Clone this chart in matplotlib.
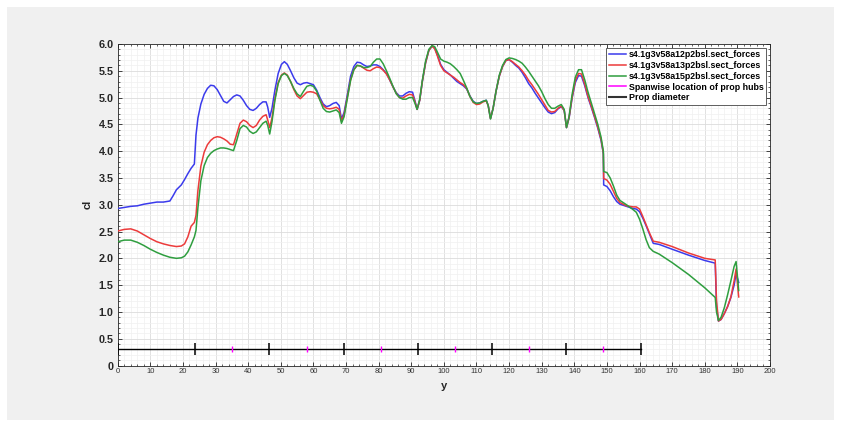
import numpy as np
import matplotlib.pyplot as plt
from matplotlib.lines import Line2D
from matplotlib.patches import Rectangle
from matplotlib.ticker import MultipleLocator, FuncFormatter

# ============================================
# Data
# ============================================
span_y = [0, 2, 4, 6, 8, 10, 12, 14, 16, 17, 18, 19.5, 20.5, 21.5, 22.5, 23.5,
          24.0, 24.6, 25.5, 26.5, 27.5, 28.5, 29.5, 30.5, 31.5, 32.5, 33.5, 34.5,
          35.5, 36.5, 37.5, 38.5, 39.5, 40.5, 41.5, 42.5, 43.5, 44.5, 45.5, 46.0,
          46.6, 47.3, 48.2, 49.2, 50.2, 51.1, 52, 53, 54, 55, 56, 57, 58, 59, 60,
          61, 62, 63, 64, 65, 66, 67, 67.9, 68.6, 69.4, 70.4, 71.4, 72.4, 73.4,
          74.4, 75.4, 76.4, 77.4, 78.4, 79.4, 80.4, 81.4, 82.4, 83.4, 84.4, 85.4,
          86.4, 87.4, 88.4, 89.4, 90.4, 91.1, 91.8, 92.6, 93.4, 94.4, 95.4, 96.4,
          97.2, 98, 99, 100, 101, 102, 103, 104, 105, 106, 107, 108, 109, 110,
          111, 112, 113, 113.6, 114.3, 115.1, 116, 117, 118, 119, 120, 121, 122,
          123, 124, 125, 126, 127, 128, 129, 130, 131, 132, 133, 134, 135, 136,
          136.9, 137.6, 138.4, 139.3, 140.3, 141.3, 142.2, 143.2, 144.2, 145.2,
          146.2, 147.2, 148.2, 148.9, 149.0, 150, 151, 152, 153, 154, 156, 158,
          159, 160, 161, 162, 163, 164.2, 166, 170, 175, 180, 183.2, 183.6, 184.2,
          185, 186, 187, 188, 189, 189.6, 190.4]

cl_a12 = [2.93, 2.95, 2.97, 2.98, 3.01, 3.03, 3.05, 3.05, 3.07, 3.17, 3.28, 3.37,
          3.47, 3.58, 3.68, 3.76, 4.30, 4.62, 4.88, 5.06, 5.17, 5.23, 5.22, 5.15,
          5.04, 4.93, 4.90, 4.96, 5.02, 5.05, 5.03, 4.95, 4.85, 4.78, 4.76, 4.80,
          4.87, 4.92, 4.92, 4.82, 4.63, 4.80, 5.14, 5.45, 5.62, 5.67, 5.62, 5.50,
          5.37, 5.27, 5.24, 5.27, 5.28, 5.26, 5.24, 5.14, 5.00, 4.88, 4.83, 4.85,
          4.89, 4.91, 4.85, 4.60, 4.72, 5.05, 5.40, 5.58, 5.66, 5.65, 5.61, 5.58,
          5.59, 5.61, 5.61, 5.58, 5.52, 5.45, 5.33, 5.20, 5.09, 5.03, 5.03, 5.08,
          5.11, 5.10, 4.95, 4.78, 4.95, 5.30, 5.65, 5.88, 5.96, 5.92, 5.80, 5.62,
          5.52, 5.47, 5.42, 5.36, 5.30, 5.26, 5.22, 5.16, 5.03, 4.93, 4.89, 4.90,
          4.93, 4.95, 4.85, 4.61, 4.80, 5.12, 5.40, 5.58, 5.69, 5.71, 5.66, 5.60,
          5.55, 5.47, 5.37, 5.26, 5.18, 5.08, 4.99, 4.90, 4.81, 4.73, 4.70, 4.72,
          4.79, 4.83, 4.76, 4.44, 4.62, 4.98, 5.28, 5.41, 5.40, 5.22, 5.00, 4.82,
          4.63, 4.43, 4.20, 3.95, 3.37, 3.34, 3.26, 3.15, 3.06, 3.01, 2.97, 2.93,
          2.92, 2.87, 2.75, 2.61, 2.46, 2.28, 2.26, 2.17, 2.06, 1.96, 1.91, 1.10,
          0.83, 0.86, 0.97, 1.10, 1.27, 1.50, 1.72, 1.55]

cl_a13 = [2.51, 2.54, 2.55, 2.51, 2.44, 2.37, 2.31, 2.27, 2.24, 2.23, 2.22, 2.23,
          2.27, 2.40, 2.60, 2.67, 2.80, 3.27, 3.72, 3.98, 4.12, 4.20, 4.25, 4.27,
          4.26, 4.23, 4.19, 4.13, 4.12, 4.32, 4.52, 4.58, 4.55, 4.48, 4.44, 4.48,
          4.58, 4.65, 4.68, 4.58, 4.44, 4.62, 4.98, 5.28, 5.42, 5.46, 5.42, 5.30,
          5.15, 5.03, 4.98, 5.04, 5.10, 5.11, 5.10, 5.07, 4.96, 4.85, 4.80, 4.79,
          4.80, 4.82, 4.78, 4.56, 4.68, 5.00, 5.33, 5.52, 5.60, 5.59, 5.55, 5.51,
          5.50, 5.54, 5.57, 5.56, 5.51, 5.44, 5.33, 5.20, 5.08, 5.00, 4.99, 5.03,
          5.06, 5.05, 4.93, 4.78, 4.95, 5.30, 5.65, 5.88, 5.96, 5.91, 5.78, 5.60,
          5.50, 5.46, 5.42, 5.38, 5.33, 5.28, 5.24, 5.17, 5.02, 4.91, 4.87, 4.88,
          4.92, 4.94, 4.85, 4.61, 4.80, 5.12, 5.40, 5.58, 5.69, 5.71, 5.67, 5.62,
          5.57, 5.50, 5.42, 5.32, 5.24, 5.15, 5.06, 4.96, 4.86, 4.76, 4.73, 4.74,
          4.80, 4.84, 4.76, 4.44, 4.63, 5.00, 5.32, 5.45, 5.44, 5.25, 5.02, 4.84,
          4.65, 4.45, 4.22, 3.97, 3.49, 3.46, 3.38, 3.25, 3.12, 3.04, 2.98, 2.96,
          2.96, 2.92, 2.78, 2.63, 2.48, 2.32, 2.30, 2.22, 2.10, 2.00, 1.97, 1.20,
          0.83, 0.86, 0.97, 1.10, 1.28, 1.58, 1.80, 1.28]

cl_a15 = [2.31, 2.34, 2.34, 2.30, 2.24, 2.17, 2.11, 2.06, 2.02, 2.01, 2.00, 2.01,
          2.04, 2.12, 2.25, 2.40, 2.52, 2.95, 3.45, 3.73, 3.88, 3.96, 4.01, 4.04,
          4.06, 4.06, 4.05, 4.03, 4.01, 4.20, 4.42, 4.48, 4.45, 4.37, 4.33, 4.36,
          4.44, 4.52, 4.56, 4.48, 4.32, 4.55, 4.95, 5.26, 5.41, 5.45, 5.41, 5.30,
          5.17, 5.07, 5.02, 5.12, 5.21, 5.23, 5.21, 5.12, 4.95, 4.80, 4.74, 4.73,
          4.75, 4.77, 4.72, 4.52, 4.64, 4.98, 5.32, 5.52, 5.60, 5.59, 5.56, 5.56,
          5.58, 5.66, 5.72, 5.72, 5.63, 5.50, 5.36, 5.21, 5.07, 5.00, 4.97, 4.97,
          5.00, 5.00, 4.90, 4.78, 4.97, 5.32, 5.68, 5.90, 5.97, 5.95, 5.85, 5.72,
          5.68, 5.66, 5.63, 5.58, 5.52, 5.45, 5.32, 5.18, 5.02, 4.92, 4.89, 4.90,
          4.93, 4.95, 4.85, 4.60, 4.80, 5.12, 5.42, 5.60, 5.71, 5.74, 5.73, 5.71,
          5.68, 5.64, 5.57, 5.49, 5.40, 5.31, 5.22, 5.11, 4.98, 4.87, 4.80, 4.80,
          4.84, 4.87, 4.78, 4.44, 4.65, 5.05, 5.38, 5.52, 5.52, 5.33, 5.10, 4.90,
          4.70, 4.50, 4.26, 4.00, 3.62, 3.60, 3.50, 3.35, 3.18, 3.08, 3.00, 2.91,
          2.86, 2.73, 2.55, 2.35, 2.20, 2.13, 2.08, 1.92, 1.70, 1.45, 1.27, 1.00,
          0.84, 0.90, 1.08, 1.32, 1.58, 1.85, 1.94, 1.40]

series_labels = ['s4.1g3v58a12p2bsl.sect_forces',
                 's4.1g3v58a13p2bsl.sect_forces',
                 's4.1g3v58a15p2bsl.sect_forces']

# prop hubs and prop disc edges (spanwise, same units as y)
hub_y = [35.1, 57.9, 80.7, 103.4, 126.1, 148.9]
prop_edges = [0.0, 23.8, 46.5, 69.3, 92.0, 114.7, 137.5, 160.4]
prop_cl_level = 0.3

# ============================================
# Plot
# ============================================
plt.rcParams['font.family'] = ['Liberation Sans', 'DejaVu Sans']

fig = plt.figure(figsize=(8.42, 4.23), dpi=100, facecolor='white')
# grey window background like the MATLAB figure
fig.patches.append(Rectangle((7 / 842, 3 / 423), 827 / 842, 413 / 423,
                             transform=fig.transFigure, facecolor='#f0f0f0',
                             edgecolor='none', zorder=-10))

ax = fig.add_axes([0.1398, 0.1359, 0.7747, 0.7601])
ax.set_facecolor('white')

colors = ['#3b3bec', '#ec3b3b', '#2f9e3f']
for cl, c in zip([cl_a12, cl_a13, cl_a15], colors):
    ax.plot(span_y, cl, color=c, lw=1.1, zorder=3)

# prop diameter line with edge ticks
ax.plot(prop_edges, [prop_cl_level] * len(prop_edges), color='black', lw=1.0,
        marker='|', markersize=8, markeredgewidth=1.1, zorder=4)
# hub locations
ax.plot(hub_y, [prop_cl_level] * len(hub_y), ls='none', color='#ff00ff',
        marker='|', markersize=4.5, markeredgewidth=1.0, zorder=5)

ax.set_xlim(0, 200)
ax.set_ylim(0, 6)
ax.xaxis.set_major_locator(MultipleLocator(10))
ax.xaxis.set_minor_locator(MultipleLocator(2))
ax.yaxis.set_major_locator(MultipleLocator(0.5))
ax.yaxis.set_minor_locator(MultipleLocator(0.1))
ax.yaxis.set_major_formatter(FuncFormatter(lambda v, p: '0' if v == 0 else f'{v:.1f}'))

ax.grid(True, which='major', color='#dcdcdc', lw=0.6)
ax.grid(True, which='minor', color='#f0f0f0', lw=0.5)
ax.set_axisbelow(True)

ax.tick_params(which='both', direction='in', top=True, right=True, color='#262626')
ax.tick_params(which='major', length=3, width=0.6)
ax.tick_params(which='minor', length=1.6, width=0.5)
ax.tick_params(axis='x', labelsize=5.5, labelcolor='#333333', pad=2)
ax.tick_params(axis='y', labelsize=7.8, labelcolor='#262626', pad=3)
for lbl in ax.get_yticklabels():
    lbl.set_fontweight('bold')
for sp in ax.spines.values():
    sp.set_color('#262626')
    sp.set_linewidth(0.6)

ax.set_xlabel('y', fontsize=8, fontweight='bold', color='#262626', labelpad=4)
ax.set_ylabel('cl', fontsize=8, fontweight='bold', color='#262626', labelpad=4)

handles = [Line2D([], [], color=c, lw=1.1) for c in colors]
handles += [Line2D([], [], color='#ff00ff', lw=1.1),
            Line2D([], [], color='#333333', lw=1.5)]
labels = series_labels + ['Spanwise location of prop hubs', 'Prop diameter']
leg = ax.legend(handles, labels, loc='upper right', fontsize=6.4,
                prop={'weight': 'bold', 'size': 6.4}, frameon=True, fancybox=False,
                edgecolor='#444444', framealpha=1, borderaxespad=0.4,
                labelspacing=0.2, handlelength=2.0, handletextpad=0.3,
                borderpad=0.3)
leg.get_frame().set_linewidth(0.6)

fig.savefig('out.png', dpi=100, facecolor=fig.get_facecolor())
